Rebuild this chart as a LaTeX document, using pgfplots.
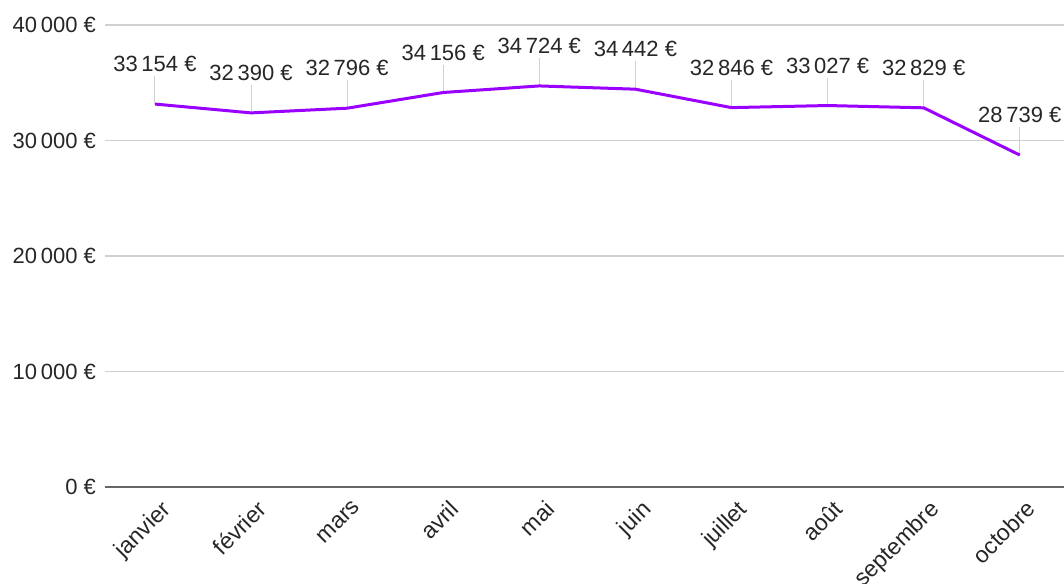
\documentclass[border=0pt]{standalone}
\usepackage{pgfplots}
\pgfplotsset{compat=1.18}
\usepackage{fontspec}
\setmainfont{Liberation Sans}
\definecolor{linepurple}{RGB}{153,0,255}
\pgfkeys{/pgf/number format/assume math mode=true}
\begin{document}
\begin{tikzpicture}
\begin{axis}[
 name=ax,
 scale only axis, width=479.5pt, height=231pt,
 xmin=-0.52, xmax=9.46, ymin=0, ymax=40000,
 scaled y ticks=false,
 axis x line=bottom, axis y line=left,
 x axis line style={-, draw=black!60, line width=1pt},
 y axis line style={draw=none},
 xtick={0,...,9},
 xticklabels={janvier,février,mars,avril,mai,juin,juillet,août,septembre,octobre},
 ytick={0,10000,20000,30000,40000},
 yticklabels={0~€,10\,000~€,20\,000~€,30\,000~€,40\,000~€},
 major tick length=0pt,
 ymajorgrids, grid style={black!18, line width=0.6pt},
 yticklabel style={font=\fontsize{11}{13}\selectfont, text=black!85, xshift=-1pt},
 xticklabel style={font=\fontsize{11.5}{13}\selectfont, rotate=45, anchor=north east, text=black!85, yshift=-2.5pt, xshift=1pt},
 clip=false,
]
\addplot[draw=none, mark=none,
  error bars/.cd, y dir=plus, y fixed=2400,
  error bar style={black!18, line width=0.5pt}, error mark=none]
 table {
x y
0 33154
1 32390
2 32796
3 34156
4 34724
5 34442
6 32846
7 33027
8 32829
9 28739
};
\addplot[linepurple, line width=1.5pt, mark=none,
  nodes near coords={\pgfmathprintnumber[1000 sep={\,}, fixed, precision=0]{\pgfplotspointmeta}~€},
  every node near coord/.append style={anchor=center, yshift=20pt, font=\fontsize{11}{13}\selectfont, text=black!85}]
 table {
x y
0 33154
1 32390
2 32796
3 34156
4 34724
5 34442
6 32846
7 33027
8 32829
9 28739
};
\end{axis}
\pgfresetboundingbox
\path ([xshift=-52.5pt,yshift=-48pt]ax.south west) rectangle ([yshift=12.5pt]ax.north east);
\end{tikzpicture}
\end{document}
